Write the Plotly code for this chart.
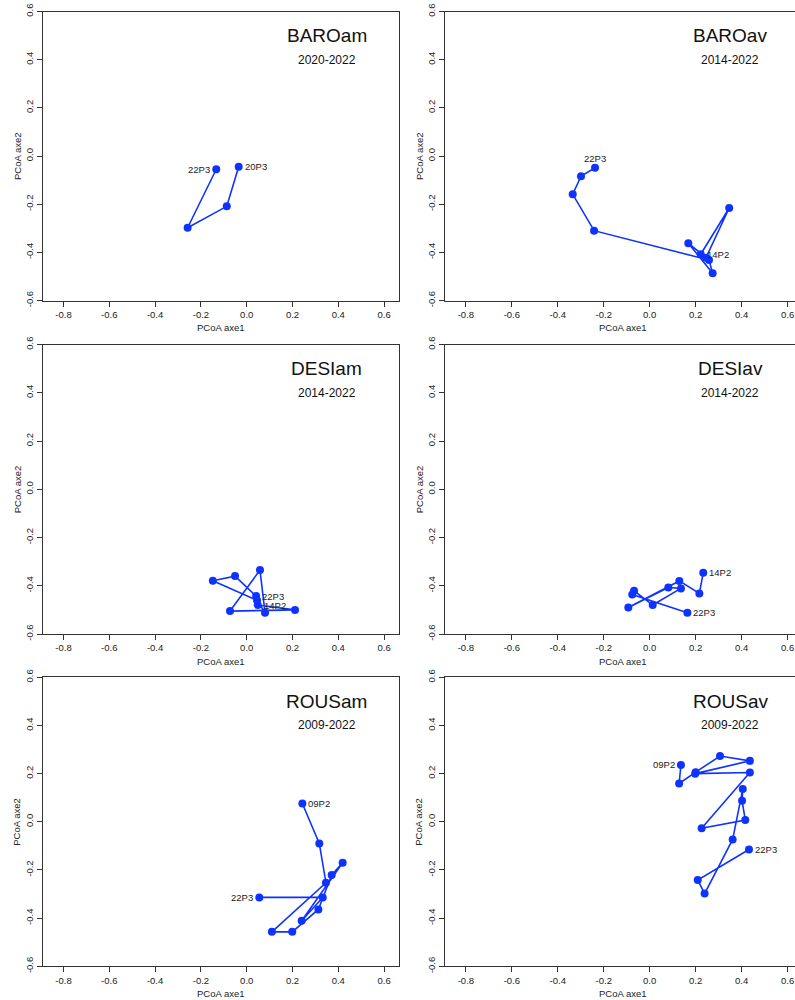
import plotly.graph_objects as go

# ---------------- data ----------------
panel_names = ["BAROam", "BAROav", "DESIam", "DESIav", "ROUSam", "ROUSav"]
panel_periods = ["2020-2022", "2014-2022", "2014-2022", "2014-2022", "2009-2022", "2009-2022"]

baroam_x = [-0.035, -0.087, -0.258, -0.133]
baroam_y = [-0.045, -0.209, -0.298, -0.055]
baroam_labels = ["20P3", "22P3"]

baroav_x = [0.222, 0.346, 0.245, 0.168, 0.274, 0.258, -0.242, -0.335, -0.299, -0.238]
baroav_y = [-0.408, -0.216, -0.422, -0.362, -0.487, -0.432, -0.310, -0.159, -0.084, -0.049]
baroav_labels = ["14P2", "22P3"]

desiam_x = [0.048, 0.211, -0.073, 0.058, 0.080, 0.045, -0.148, -0.051, 0.041]
desiam_y = [-0.480, -0.500, -0.505, -0.335, -0.512, -0.460, -0.379, -0.360, -0.443]
desiam_labels = ["14P2", "22P3"]

desiav_x = [0.233, 0.216, 0.129, -0.093, 0.081, 0.136, 0.013, -0.068, -0.076, 0.164]
desiav_y = [-0.346, -0.432, -0.380, -0.490, -0.407, -0.411, -0.480, -0.421, -0.436, -0.512]
desiav_labels = ["14P2", "22P3"]

rousam_x = [0.243, 0.317, 0.346, 0.110, 0.199, 0.313, 0.371, 0.419, 0.240, 0.332, 0.055]
rousam_y = [0.076, -0.090, -0.253, -0.457, -0.457, -0.364, -0.221, -0.170, -0.411, -0.314, -0.314]
rousam_labels = ["09P2", "22P3"]

rousav_x = [0.136, 0.128, 0.200, 0.306, 0.436, 0.198, 0.436, 0.226, 0.416, 0.402, 0.405, 0.361, 0.239, 0.209, 0.432]
rousav_y = [0.236, 0.159, 0.206, 0.273, 0.253, 0.200, 0.205, -0.027, 0.007, 0.087, 0.136, -0.073, -0.298, -0.242, -0.115]
rousav_labels = ["09P2", "22P3"]

# label placement for (first, last) point
label_sides = [("right", "left"), ("right", "top"), ("right", "right"),
               ("right", "right"), ("right", "left"), ("left", "right")]

x_ticks = [-0.8, -0.6, -0.4, -0.2, 0.0, 0.2, 0.4, 0.6]
y_ticks = [-0.6, -0.4, -0.2, 0.0, 0.2, 0.4, 0.6]
x_title = "PCoA axe1"
y_title = "PCoA axe2"
title_pos = (0.35, 0.5)
period_pos = (0.35, 0.4)

series = [
    (baroam_x, baroam_y, baroam_labels),
    (baroav_x, baroav_y, baroav_labels),
    (desiam_x, desiam_y, desiam_labels),
    (desiav_x, desiav_y, desiav_labels),
    (rousam_x, rousam_y, rousam_labels),
    (rousav_x, rousav_y, rousav_labels),
]

# ---------------- layout ----------------
W, H = 795, 1000
FONT = "Liberation Sans, Arial, sans-serif"
BLUE = "#0f33ff"
TXT = "#222222"

# pixel geometry of plot boxes
col_px = [(43, 399, -0.8895, 0.6650), (445, 795, -0.8908, 0.6323)]
row_px = [(11.5, 300.5), (344.5, 634.0), (677.3, 966.3)]

fig = go.Figure()
annotations = []

for i, (xs, ys, labs) in enumerate(series):
    r, c = divmod(i, 2)
    ax_id = "" if i == 0 else str(i + 1)
    xa, ya = "x" + ax_id, "y" + ax_id
    x0p, x1p, xr0, xr1 = col_px[c]
    y0p, y1p = row_px[r]
    xdom = [x0p / W, min(x1p / W, 1.0)]
    ydom = [1 - y1p / H, 1 - y0p / H]

    fig.add_trace(go.Scatter(
        x=xs, y=ys, mode="lines+markers", xaxis=xa, yaxis=ya,
        line=dict(color=BLUE, width=1.6),
        marker=dict(color=BLUE, size=8, line=dict(width=0)),
        showlegend=False, hoverinfo="skip", cliponaxis=False))

    common = dict(showgrid=False, zeroline=False, showline=True, linecolor="#333333",
                  linewidth=1, ticks="outside", ticklen=5, tickwidth=1, tickcolor="#333333",
                  automargin=False,
                  tickfont=dict(family=FONT, size=9.5, color=TXT))
    fig.layout["xaxis" + ax_id] = dict(
        domain=xdom, range=[xr0, xr1], anchor=ya, tickvals=x_ticks,
        ticktext=[f"{v:.1f}" for v in x_ticks], mirror=True, **common)
    fig.layout["yaxis" + ax_id] = dict(
        domain=ydom, range=[-0.6, 0.6], anchor=xa, tickvals=y_ticks,
        ticktext=[f"{v:.1f}" for v in y_ticks], tickangle=-90,
        mirror=(c == 0), **common)

    # panel titles
    annotations.append(dict(x=title_pos[0], y=title_pos[1], xref=xa, yref=ya,
                            text=panel_names[i], showarrow=False,
                            font=dict(family=FONT, size=19, color="#111111"),
                            xanchor="center", yanchor="middle"))
    annotations.append(dict(x=period_pos[0], y=period_pos[1], xref=xa, yref=ya,
                            text=panel_periods[i], showarrow=False,
                            font=dict(family=FONT, size=12, color="#111111"),
                            xanchor="center", yanchor="middle"))

    # point labels (first and last)
    for idx, lab, side in ((0, labs[0], label_sides[i][0]), (-1, labs[1], label_sides[i][1])):
        a = dict(x=xs[idx], y=ys[idx], xref=xa, yref=ya, text=lab, showarrow=False,
                 font=dict(family=FONT, size=9.5, color=TXT))
        if side == "right":
            a.update(xanchor="left", yanchor="middle", xshift=4)
        elif side == "left":
            a.update(xanchor="right", yanchor="middle", xshift=-4)
        else:
            a.update(xanchor="center", yanchor="bottom", yshift=2)
        annotations.append(a)

    # axis titles
    annotations.append(dict(x=(x0p + (x1p if c == 0 else 801)) / 2 / W, y=1 - (y1p + 27) / H,
                            xref="paper", yref="paper", text=x_title, showarrow=False,
                            font=dict(family=FONT, size=9.5, color=TXT),
                            xanchor="center", yanchor="middle"))
    annotations.append(dict(x=(x0p - 26) / W, y=1 - (y0p + y1p) / 2 / H,
                            xref="paper", yref="paper", text=y_title, showarrow=False,
                            textangle=-90, font=dict(family=FONT, size=9.5, color=TXT),
                            xanchor="center", yanchor="middle"))

fig.update_layout(width=W, height=H, margin=dict(l=0, r=0, t=0, b=0),
                  paper_bgcolor="white", plot_bgcolor="white",
                  annotations=annotations,
                  font=dict(family=FONT))

fig.write_html("out.html",
               config={"displayModeBar": False, "staticPlot": True},
               post_script="document.body.style.margin='0';document.body.style.padding='0';"
                           "document.documentElement.style.overflow='hidden';")
